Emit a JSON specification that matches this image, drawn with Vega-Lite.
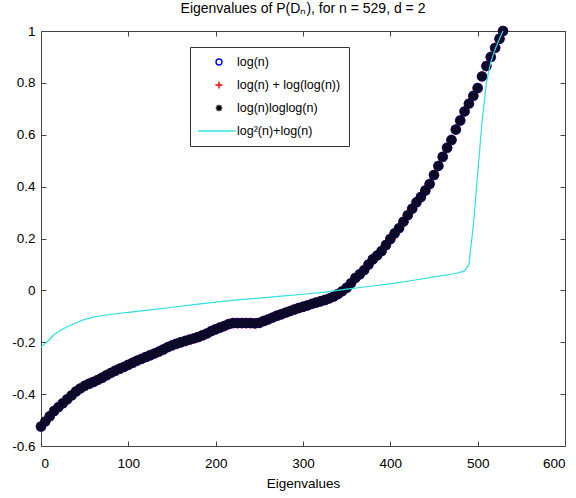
{
  "$schema": "https://vega.github.io/schema/vega-lite/v6.json",
  "width": 524,
  "height": 415,
  "autosize": {"type": "none"},
  "padding": {"left": 41, "top": 31, "right": 11, "bottom": 52},
  "background": "white",
  "title": {"text": "Eigenvalues of P(Dₙ), for n = 529, d = 2", "fontSize": 14, "fontWeight": "normal", "font": "Liberation Sans", "color": "black", "offset": 4, "anchor": "middle"},
  "datasets": {
    "eig": [
      {"i":0,"v":-0.525},{"i":5,"v":-0.505},{"i":10,"v":-0.485},{"i":15,"v":-0.465},{"i":20,"v":-0.45},
      {"i":25,"v":-0.435},{"i":30,"v":-0.42},{"i":35,"v":-0.405},{"i":40,"v":-0.39},{"i":45,"v":-0.378},
      {"i":50,"v":-0.368},{"i":55,"v":-0.36},{"i":60,"v":-0.353},{"i":65,"v":-0.345},{"i":70,"v":-0.337},
      {"i":75,"v":-0.327},{"i":80,"v":-0.318},{"i":85,"v":-0.31},{"i":90,"v":-0.302},{"i":95,"v":-0.295},
      {"i":100,"v":-0.287},{"i":105,"v":-0.279},{"i":110,"v":-0.271},{"i":115,"v":-0.264},{"i":120,"v":-0.257},
      {"i":125,"v":-0.25},{"i":130,"v":-0.243},{"i":135,"v":-0.236},{"i":140,"v":-0.228},{"i":145,"v":-0.219},
      {"i":150,"v":-0.212},{"i":155,"v":-0.206},{"i":160,"v":-0.2},{"i":165,"v":-0.195},{"i":170,"v":-0.19},
      {"i":175,"v":-0.185},{"i":180,"v":-0.18},{"i":185,"v":-0.173},{"i":190,"v":-0.166},{"i":195,"v":-0.157},
      {"i":200,"v":-0.15},{"i":205,"v":-0.143},{"i":210,"v":-0.137},{"i":215,"v":-0.13},{"i":220,"v":-0.126},
      {"i":225,"v":-0.126},{"i":230,"v":-0.126},{"i":235,"v":-0.126},{"i":240,"v":-0.126},{"i":245,"v":-0.127},
      {"i":250,"v":-0.125},{"i":255,"v":-0.118},{"i":260,"v":-0.112},{"i":265,"v":-0.105},{"i":270,"v":-0.098},
      {"i":275,"v":-0.092},{"i":280,"v":-0.086},{"i":285,"v":-0.08},{"i":290,"v":-0.074},{"i":295,"v":-0.068},
      {"i":300,"v":-0.063},{"i":305,"v":-0.058},{"i":310,"v":-0.052},{"i":315,"v":-0.047},{"i":320,"v":-0.042},
      {"i":325,"v":-0.037},{"i":330,"v":-0.031},{"i":335,"v":-0.024},{"i":340,"v":-0.014},{"i":345,"v":-0.003},
      {"i":350,"v":0.01},{"i":355,"v":0.028},{"i":360,"v":0.048},{"i":365,"v":0.062},{"i":370,"v":0.078},
      {"i":375,"v":0.1},{"i":380,"v":0.12},{"i":385,"v":0.135},{"i":390,"v":0.152},{"i":395,"v":0.175},
      {"i":400,"v":0.198},{"i":405,"v":0.22},{"i":410,"v":0.24},{"i":415,"v":0.265},{"i":420,"v":0.29},
      {"i":425,"v":0.315},{"i":430,"v":0.34},{"i":435,"v":0.36},{"i":440,"v":0.385},{"i":445,"v":0.41},
      {"i":450,"v":0.445},{"i":455,"v":0.48},{"i":460,"v":0.515},{"i":465,"v":0.55},{"i":470,"v":0.58},
      {"i":475,"v":0.62},{"i":480,"v":0.655},{"i":485,"v":0.69},{"i":490,"v":0.72},{"i":495,"v":0.75},
      {"i":500,"v":0.78},{"i":505,"v":0.825},{"i":510,"v":0.865},{"i":515,"v":0.9},{"i":520,"v":0.935},
      {"i":525,"v":0.97},{"i":529,"v":1.0}
    ],
    "cyan": [
      {"i":0,"c":-0.22},{"i":3,"c":-0.21},{"i":8,"c":-0.195},{"i":15,"c":-0.17},{"i":22,"c":-0.155},
      {"i":30,"c":-0.14},{"i":40,"c":-0.125},{"i":50,"c":-0.112},{"i":60,"c":-0.103},{"i":80,"c":-0.092},
      {"i":100,"c":-0.085},{"i":125,"c":-0.075},{"i":150,"c":-0.065},{"i":175,"c":-0.055},{"i":200,"c":-0.045},
      {"i":225,"c":-0.037},{"i":250,"c":-0.03},{"i":275,"c":-0.022},{"i":300,"c":-0.015},{"i":325,"c":-0.007},
      {"i":350,"c":0.005},{"i":375,"c":0.015},{"i":400,"c":0.025},{"i":425,"c":0.038},{"i":450,"c":0.052},
      {"i":475,"c":0.065},{"i":485,"c":0.075},{"i":490,"c":0.1},{"i":495,"c":0.25},{"i":500,"c":0.45},
      {"i":505,"c":0.65},{"i":510,"c":0.8},{"i":515,"c":0.88},{"i":520,"c":0.93},{"i":525,"c":0.97},
      {"i":529,"c":1.0}
    ]
  },
  "config": {
    "view": {"stroke": "#444", "strokeWidth": 1},
    "axis": {
      "grid": false, "domain": false, "tickColor": "#444", "tickSize": -5,
      "labelFont": "Liberation Sans", "labelFontSize": 13.5, "labelColor": "black",
      "titleFont": "Liberation Sans", "titleFontSize": 13.5, "titleFontWeight": "normal", "titleColor": "black"
    },
    "legend": {
      "orient": "none", "legendX": 149, "legendY": 16,
      "strokeColor": "#333", "fillColor": "white", "padding": 8,
      "symbolOffset": 14, "labelOffset": 11, "rowPadding": 9,
      "labelFont": "Liberation Sans", "labelFontSize": 12.5, "labelColor": "black",
      "symbolSize": 144, "symbolStrokeWidth": 1.4
    }
  },
  "resolve": {"axis": {"x": "independent", "y": "independent"}},
  "layer": [
    {
      "data": {"name": "eig"},
      "mark": {"type": "point", "size": 320, "strokeWidth": 1.5, "filled": false, "opacity": 1},
      "encoding": {
        "x": {"field": "i", "type": "quantitative", "scale": {"domain": [0, 600], "nice": false},
              "axis": {"orient": "bottom", "values": [0,100,200,300,400,500,600], "title": "Eigenvalues", "labelPadding": 15, "titlePadding": 7}},
        "y": {"field": "v", "type": "quantitative", "scale": {"domain": [-0.6, 1], "nice": false},
              "axis": {"orient": "left", "values": [-0.6,-0.4,-0.2,0,0.2,0.4,0.6,0.8,1], "title": null, "labelPadding": 11, "labelExpr": "'' + round(datum.value*10)/10"}},
        "color": {"datum": "log(n)", "legend": {"title": null},
                  "scale": {"domain": ["log(n)", "log(n) + log(log(n))", "log(n)loglog(n)", "log²(n)+log(n)"], "range": ["#0000ff", "#ff0000", "#000000", "#30e0e0"]}},
        "shape": {"datum": "log(n)", "legend": {"title": null},
                  "scale": {"domain": ["log(n)", "log(n) + log(log(n))", "log(n)loglog(n)", "log²(n)+log(n)"],
                            "range": ["M-0.5,0A0.5,0.5,0,1,1,0.5,0A0.5,0.5,0,1,1,-0.5,0", "M-0.6,0H0.6M0,-0.6V0.6", "M-0.55,0H0.55M0,-0.55V0.55M-0.4,-0.4L0.4,0.4M-0.4,0.4L0.4,-0.4", "M-3.5,0H2.8"]}}
      }
    },
    {
      "data": {"name": "eig"},
      "mark": {"type": "point", "size": 320, "strokeWidth": 1.5, "filled": false, "opacity": 1},
      "encoding": {
        "x": {"field": "i", "type": "quantitative", "axis": null},
        "y": {"field": "v", "type": "quantitative", "axis": null},
        "color": {"datum": "log(n) + log(log(n))"},
        "shape": {"datum": "log(n) + log(log(n))"}
      }
    },
    {
      "data": {"name": "eig"},
      "mark": {"type": "point", "size": 320, "strokeWidth": 3.2, "filled": false, "opacity": 1, "stroke": "#0a0a28"},
      "encoding": {
        "x": {"field": "i", "type": "quantitative", "axis": null},
        "y": {"field": "v", "type": "quantitative", "axis": null},
        "color": {"datum": "log(n)loglog(n)"},
        "shape": {"datum": "log(n)loglog(n)"}
      }
    },
    {
      "data": {"name": "cyan"},
      "mark": {"type": "line", "strokeWidth": 1.2},
      "encoding": {
        "x": {"field": "i", "type": "quantitative", "axis": {"orient": "top", "values": [0,100,200,300,400,500,600], "labels": false, "title": null}},
        "y": {"field": "c", "type": "quantitative", "axis": {"orient": "right", "values": [-0.6,-0.4,-0.2,0,0.2,0.4,0.6,0.8,1], "labels": false, "title": null}},
        "color": {"datum": "log²(n)+log(n)"}
      }
    }
  ]
}
